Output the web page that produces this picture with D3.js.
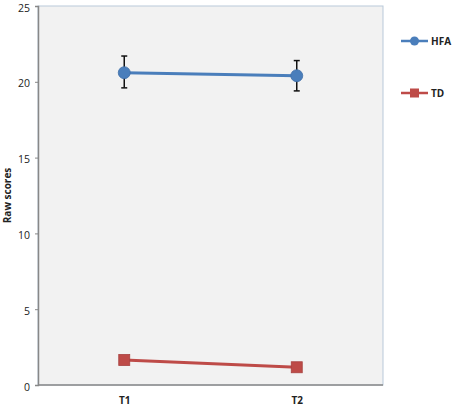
<!DOCTYPE html>
<html>
<head>
<meta charset="utf-8">
<script src="https://cdn.jsdelivr.net/npm/d3@7"></script>
<style>
  body { margin: 0; background: #fff; }
  text { font-family: "Open Sans", "DejaVu Sans", sans-serif; }
</style>
</head>
<body>
<div id="chart"></div>
<script>
// chart data
const timepoints = ["T1", "T2"];
const hfaMeans = [20.6, 20.4];
const hfaErrLow = [19.6, 19.4];
const hfaErrHigh = [21.7, 21.4];
const tdMeans = [1.65, 1.17];
const yTicks = [0, 5, 10, 15, 20, 25];
const seriesNames = ["HFA", "TD"];

function createLineChart() {
    const width = 454;
    const height = 409;
    const left = 38, right = 383, top = 6, bottom = 385;

    const svg = d3.select("#chart")
        .append("svg")
        .attr("width", width)
        .attr("height", height);

    // plot background
    svg.append("rect")
        .attr("x", left)
        .attr("y", top)
        .attr("width", right - left)
        .attr("height", bottom - top)
        .attr("fill", "#f2f2f2")
        .attr("stroke", "#b9c9da")
        .attr("stroke-width", 1);

    const x = d3.scalePoint()
        .domain(timepoints)
        .range([left, right])
        .padding(0.5);

    const y = d3.scaleLinear()
        .domain([0, 25])
        .range([bottom, top]);

    // y axis
    const yAxis = svg.append("g")
        .attr("transform", `translate(${left},0)`)
        .call(d3.axisLeft(y).tickValues(yTicks).tickSize(3).tickPadding(5));
    yAxis.select(".domain").attr("stroke", "#888").attr("stroke-width", 1.5);
    yAxis.selectAll(".tick line").attr("stroke", "#888");
    yAxis.selectAll("text")
        .attr("font-size", 10.5)
        .attr("dy", "0.48em")
        .attr("fill", "#222");

    // x axis
    const xAxis = svg.append("g")
        .attr("transform", `translate(0,${bottom})`)
        .call(d3.axisBottom(x).tickSize(0).tickPadding(12));
    xAxis.select(".domain").attr("d", `M${left},0H${right}`).attr("stroke", "#888").attr("stroke-width", 1.5);
    xAxis.selectAll("text").attr("font-size", 10).attr("font-weight", "bold").attr("fill", "#222");

    // y label
    svg.append("text")
        .attr("transform", `translate(11,${(top + bottom) / 2}) rotate(-90)`)
        .attr("text-anchor", "middle")
        .attr("font-size", 10)
        .attr("font-weight", "bold")
        .attr("fill", "#222")
        .text("Raw scores");

    const line = d3.line()
        .x((d, i) => x(timepoints[i]))
        .y(d => y(d));

    // error bars for HFA
    const err = svg.append("g");
    timepoints.forEach((t, i) => {
        const cx = x(t);
        err.append("line")
            .attr("x1", cx).attr("x2", cx)
            .attr("y1", y(hfaErrLow[i])).attr("y2", y(hfaErrHigh[i]))
            .attr("stroke", "#111").attr("stroke-width", 1.5);
        [hfaErrLow[i], hfaErrHigh[i]].forEach(v => {
            err.append("line")
                .attr("x1", cx - 3).attr("x2", cx + 3)
                .attr("y1", y(v)).attr("y2", y(v))
                .attr("stroke", "#111").attr("stroke-width", 1.5);
        });
    });

    // HFA line
    svg.append("path")
        .datum(hfaMeans)
        .attr("fill", "none")
        .attr("stroke", "#4a7ebb")
        .attr("stroke-width", 3)
        .attr("d", line);
    svg.selectAll(".hfa-pt")
        .data(hfaMeans)
        .enter().append("circle")
        .attr("class", "hfa-pt")
        .attr("cx", (d, i) => x(timepoints[i]))
        .attr("cy", d => y(d))
        .attr("r", 6)
        .attr("fill", "#4a7ebb")
        .attr("stroke", "#3f6fa8")
        .attr("stroke-width", 0.8);

    // TD line
    svg.append("path")
        .datum(tdMeans)
        .attr("fill", "none")
        .attr("stroke", "#be4b48")
        .attr("stroke-width", 3)
        .attr("d", line);
    svg.selectAll(".td-pt")
        .data(tdMeans)
        .enter().append("rect")
        .attr("class", "td-pt")
        .attr("x", (d, i) => x(timepoints[i]) - 5.5)
        .attr("y", d => y(d) - 5.5)
        .attr("width", 11)
        .attr("height", 11)
        .attr("fill", "#be4b48")
        .attr("stroke", "#a84240")
        .attr("stroke-width", 0.8);

    // legend
    const legendY = [41, 93];
    const colors = ["#4a7ebb", "#be4b48"];
    seriesNames.forEach((name, i) => {
        const g = svg.append("g").attr("transform", `translate(0,${legendY[i]})`);
        g.append("line")
            .attr("x1", 401).attr("x2", 428)
            .attr("stroke", colors[i]).attr("stroke-width", 2.5);
        if (i === 0) {
            g.append("circle").attr("cx", 414.5).attr("r", 4.5).attr("fill", colors[i]);
        } else {
            g.append("rect").attr("x", 410).attr("y", -4.5).attr("width", 9).attr("height", 9).attr("fill", colors[i]);
        }
        g.append("text")
            .attr("x", 431)
            .attr("dy", "0.35em")
            .attr("font-size", 10)
            .attr("font-weight", "bold")
            .attr("fill", "#222")
            .text(name);
    });
}

createLineChart();
</script>
</body>
</html>
